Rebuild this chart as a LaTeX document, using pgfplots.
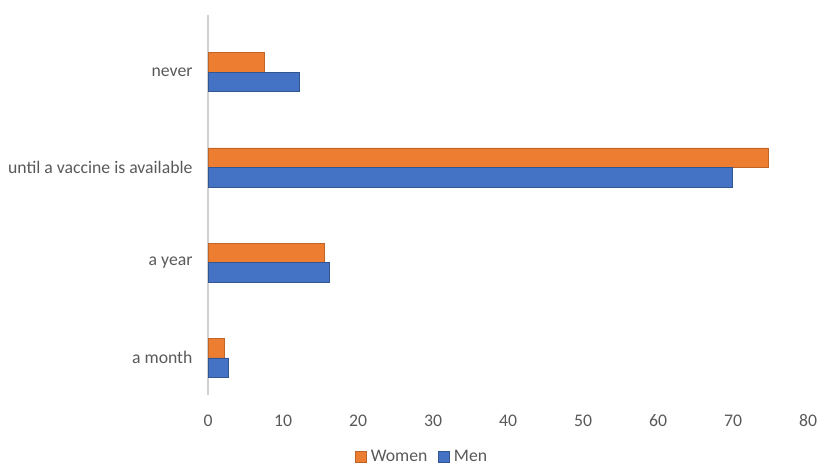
\documentclass[border=0pt]{standalone}
\usepackage{fontspec}
\setmainfont{Carlito}
\usepackage{pgfplots}
\pgfplotsset{compat=1.18}
\definecolor{wom}{HTML}{ED7D31}
\definecolor{men}{HTML}{4472C4}
\definecolor{txt}{HTML}{595959}
\definecolor{axl}{HTML}{D0D0D0}
\begin{document}
\begin{tikzpicture}[x=1pt,y=1pt]
\useasboundingbox (0,0) rectangle (829,473);
\begin{axis}[
  at={(208pt,78pt)}, anchor=south west,
  scale only axis, width=600pt, height=380pt,
  xbar, bar width=0.205,
  xmin=0, xmax=80, ymin=-0.39, ymax=3.6,
  axis x line*=bottom, axis y line*=left,
  x axis line style={draw=none},
  y axis line style={draw=axl, line width=1.5pt, -},
  xtick={0,10,...,80},
  ytick={0,1,2,3},
  yticklabels={a month, a year, until a vaccine is available, never},
  major tick length=0pt, tick style={draw=none},
  /pgf/number format/assume math mode=true,
  tick label style={font=\fontsize{17.7}{20}\selectfont, text=txt},
  xticklabel style={yshift=-16pt},
  yticklabel style={xshift=-12pt},
  legend columns=2,
  legend style={at={(0.357,-0.163)}, anchor=center, draw=none, fill=none,
    font=\fontsize{17.7}{20}\selectfont, text=txt,
    /tikz/every odd column/.append style={column sep=2pt},
    /tikz/every even column/.append style={column sep=9pt}},
  legend image code/.code={\fill[#1] (0pt,-5.5pt) rectangle (11pt,5.5pt);},
]
\addplot[fill=wom, draw=wom!80!black, line width=0.5pt, bar shift=0.1025]
  coordinates {(2.1,0) (15.5,1) (74.7,2) (7.5,3)};
\addlegendentry{Women}
\addplot[fill=men, draw=men!75!black, line width=0.5pt, bar shift=-0.1025]
  coordinates {(2.7,0) (16.1,1) (69.9,2) (12.1,3)};
\addlegendentry{Men}
\end{axis}
\end{tikzpicture}
\end{document}
